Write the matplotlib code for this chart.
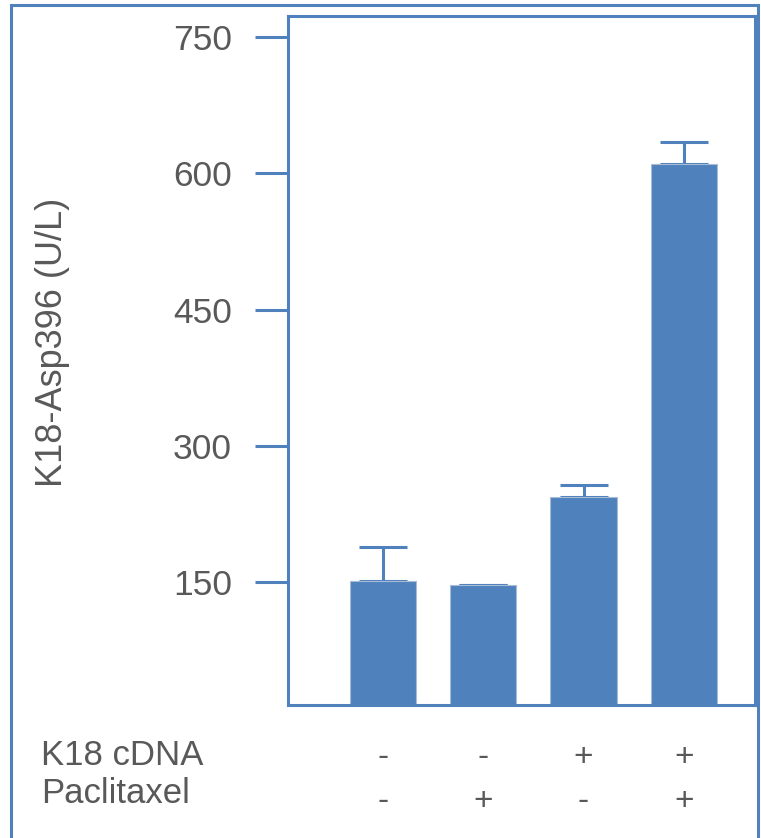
import matplotlib
matplotlib.use('Agg')
import matplotlib.pyplot as plt
from matplotlib.patches import Rectangle
from matplotlib.transforms import blended_transform_factory

# values
groups = [0, 1, 2, 3]
means = [151, 146, 243, 610]
errs_up = [37, 0, 14, 25]
k18_cdna = ['-', '-', '+', '+']
paclitaxel = ['-', '+', '-', '+']
yticks = [150, 300, 450, 600, 750]

blue = '#4F81BD'
grey = '#595959'
plt.rcParams['font.family'] = ['Liberation Sans', 'DejaVu Sans']

W, H = 761, 838
fig = plt.figure(figsize=(W / 100, H / 100), dpi=100)
ax = fig.add_axes([288 / W, 1 - 705 / H, (755 - 288) / W, (705 - 16) / H])

ax.bar(groups, means, width=0.66, color=blue, edgecolor='#A9BCD6', linewidth=0.8, zorder=2)
ax.errorbar(groups, means, yerr=[[0] * 4, errs_up], fmt='none', ecolor=blue,
            elinewidth=2.2, capsize=17, capthick=2.2, zorder=1)

ax.set_xlim(-0.947, 3.71)
ax.set_ylim(14.3, 773.5)
ax.set_xticks([])
ax.set_yticks(yticks)
ax.set_yticklabels([str(v) for v in yticks], fontsize=25.5, color=grey)
ax.tick_params(axis='y', length=24, width=2.2, color=blue, pad=16.5, direction='out')
for s in ax.spines.values():
    s.set_color(blue)
    s.set_linewidth(2.2)

fig.text(52 / W, 1 - 342.5 / H, 'K18-Asp396 (U/L)', rotation=90, fontsize=26,
         color=grey, ha='center', va='center')

# condition table under the bars
fig.text(41 / W, 1 - 765 / H, 'K18 cDNA', fontsize=25, color=grey, ha='left', va='baseline')
fig.text(41 / W, 1 - 803 / H, 'Paclitaxel', fontsize=25, color=grey, ha='left', va='baseline')
trans = blended_transform_factory(ax.transData, fig.transFigure)
for x, a, b in zip(groups, k18_cdna, paclitaxel):
    ax.text(x, 1 - 766 / H, a, transform=trans, fontsize=24, color=grey, ha='center', va='baseline')
    ax.text(x, 1 - 810 / H, b, transform=trans, fontsize=24, color=grey, ha='center', va='baseline')

# outer frame
fig.add_artist(Rectangle((11 / W, -0.1), (758 - 11) / W, 1.1 - 5.5 / H, transform=fig.transFigure,
                         fill=False, edgecolor=blue, linewidth=2.2))

fig.savefig('out.png', dpi=100)
